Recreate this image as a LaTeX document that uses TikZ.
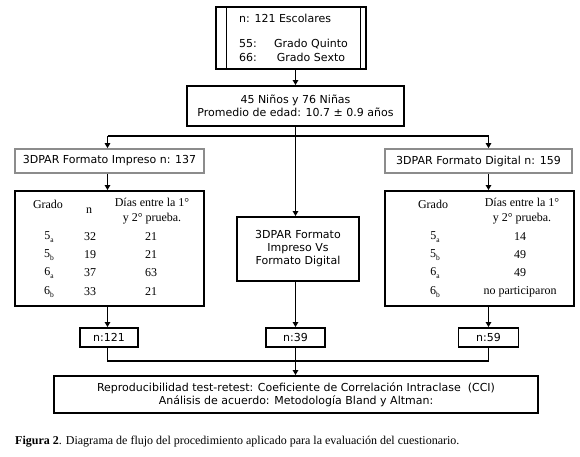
\documentclass[tikz,border=0pt]{standalone}
\usepackage{fontspec}
\setmainfont{Liberation Serif}
\newfontfamily\vsans{DejaVu Sans}
\usetikzlibrary{arrows.meta,calc}
\definecolor{gbord}{RGB}{140,140,140}
\newcommand{\sbs}[2]{#1\raisebox{-0.3em}{\fontsize{7.5}{7.5}\selectfont #2}}
\begin{document}
\begin{tikzpicture}[x=1pt,y=-1pt,
  box/.style={draw,line width=1.9pt,inner sep=0pt,align=center},
  gbox/.style={draw=gbord,line width=1.7pt,inner sep=0pt,align=center},
  sans/.style={font=\vsans\fontsize{11}{13}\selectfont},
  ser/.style={font=\fontsize{12}{15}\selectfont},
  txt/.style={inner sep=0pt,align=center},
  conn/.style={line width=1.8pt},
  arr/.style={conn,-{Triangle[length=5pt,width=5.5pt]}},
]
\useasboundingbox (0,0) rectangle (580,456);
\fill[white] (0,0) rectangle (580,456);

% top box
\node[box,minimum width=150pt,minimum height=62pt] (top) at (291,38) {};
\draw[line width=0.9pt] ($(top.north west)+(11,0)$) -- ($(top.south west)+(11,0)$);
\draw[line width=0.9pt] ($(top.north east)+(-7,0)$) -- ($(top.south east)+(-7,0)$);
\node[sans,txt,anchor=west] (t1) at (239,18) {n: 121 Escolares};
\node[sans,txt,anchor=west] (t2) at (239,44) {55:};
\node[sans,txt,anchor=west] (t3) at (239,57) {66:};
\node[sans,txt] (t4) at (311,44) {Grado Quinto};
\node[sans,txt] (t5) at (311,57) {Grado Sexto};

% demographics
\node[box,sans,minimum width=217pt,minimum height=40pt] (demo) at (295.5,106)
  {45 Niños y 76 Niñas\\Promedio de edad: 10.7 ± 0.9 años};

% format boxes
\node[gbox,sans,minimum width=189pt,minimum height=24pt] (imp) at (109.5,161) {3DPAR Formato Impreso n: 137};
\node[gbox,sans,minimum width=187pt,minimum height=24pt] (dig) at (478.5,161) {3DPAR Formato Digital n: 159};

% tables
\node[box,minimum width=189pt,minimum height=115pt] (tabL) at (109.5,248.5) {};
\node[box,minimum width=189pt,minimum height=115pt] (tabR) at (479.5,248.5) {};

\node[ser,txt] (lhg) at (48,204) {Grado};
\node[ser,txt] (lhn) at (89,211) {n};
\node[ser,txt] (lhd) at (152,211.5) {Días entre la 1°\\y 2° prueba.};
\foreach \i/\g/\s/\n/\d/\y in {1/5/a/32/21/237, 2/5/b/19/21/255, 3/6/a/37/63/273, 4/6/b/33/21/292}{
  \node[ser,txt] (lg\i) at (49,\y) {\sbs{\g}{\s}};
  \node[ser,txt] (ln\i) at (90,\y) {\n};
  \node[ser,txt] (ld\i) at (151,\y) {\d};
}
\node[ser,txt] (rhg) at (433,204) {Grado};
\node[ser,txt] (rhd) at (522,211.5) {Días entre la 1°\\y 2° prueba.};
\foreach \i/\g/\s/\d/\y in {1/5/a/14/237, 2/5/b/49/255, 3/6/a/49/273, 4/6/b/no participaron/292}{
  \node[ser,txt] (rg\i) at (435,\y) {\sbs{\g}{\s}};
  \node[ser,txt] (rd\i) at (520,\y) {\d};
}

% middle
\node[box,sans,minimum width=122pt,minimum height=64pt] (mid) at (298,249)
  {3DPAR Formato\\Impreso Vs\\Formato Digital};

% n boxes
\node[box,sans,minimum width=58pt,minimum height=19pt] (n121) at (109,337.5) {n:121};
\node[box,sans,minimum width=59pt,minimum height=19pt] (n39) at (295.5,337.5) {n:39};
\node[box,sans,minimum width=60pt,minimum height=19pt] (n59) at (488.5,337.5) {n:59};

% final
\node[box,sans,minimum width=484pt,minimum height=37pt] (final) at (296,394.5)
  {Reproducibilidad test-retest: Coeficiente de Correlación Intraclase\ \ (CCI)\\Análisis de acuerdo: Metodología Bland y Altman:};

% caption
\node[ser,txt,anchor=west] (cap) at (15,442)
  {\textbf{Figura 2}. Diagrama de flujo del procedimiento aplicado para la evaluación del cuestionario.};

% connectors
\coordinate (cL) at (107.5,136);
\coordinate (cR) at (488.5,136);
\coordinate (mj) at (295.5,361);
\draw[arr] (top.south -| demo) -- (demo.north);
\draw[conn] (cL) -- (cR);
\draw[arr] (demo.south) -- (demo.south |- mid.north);
\draw[arr] (cL) -- (cL |- imp.north);
\draw[arr] (cR) -- (cR |- dig.north);
\draw[arr] (imp.south -| cL) -- (tabL.north -| cL);
\draw[arr] (dig.south -| cR) -- (tabR.north -| cR);
\draw[arr] (tabL.south -| cL) -- (n121.north -| cL);
\draw[arr] (tabR.south -| cR) -- (n59.north);
\draw[arr] (mid.south -| n39) -- (n39.north);
\draw[conn] (n121.south -| cL) |- (mj);
\draw[conn] (n59.south) |- (mj);
\draw[arr] (n39.south) -- (final.north -| n39);
\end{tikzpicture}
\end{document}
